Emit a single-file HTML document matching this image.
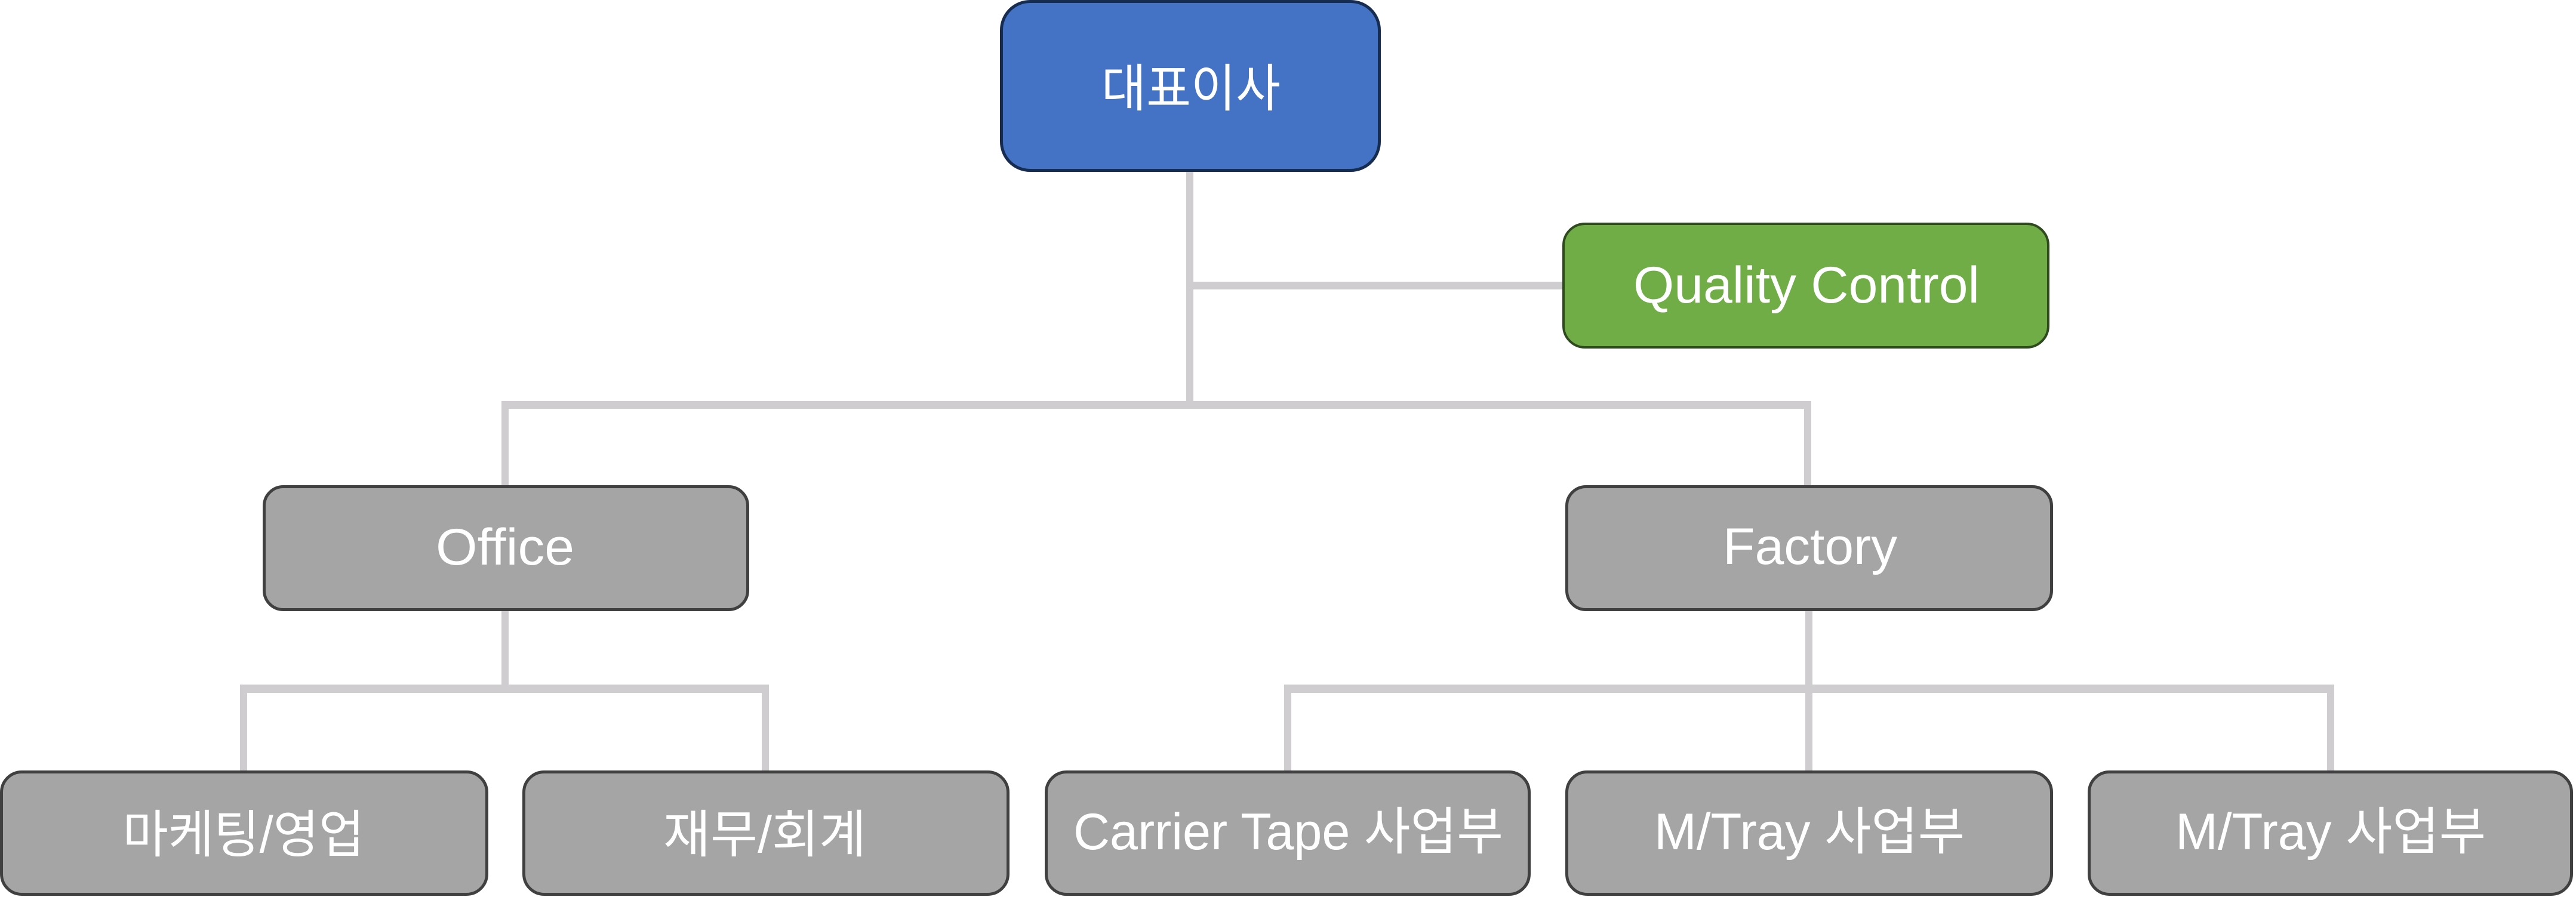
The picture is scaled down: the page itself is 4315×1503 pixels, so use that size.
<!DOCTYPE html>
<html>
<head>
<meta charset="utf-8">
<style>
  html, body { margin: 0; padding: 0; background: #ffffff; }
  svg { display: block; }
  text { font-family: "Liberation Sans", "Noto Sans CJK KR", sans-serif; font-size: 86px; fill: #ffffff; }
</style>
</head>
<body>
<svg width="4315" height="1503" viewBox="0 0 4315 1503" xmlns="http://www.w3.org/2000/svg">
  <!-- connectors -->
  <g fill="#CFCDCF">
    <!-- CEO vertical -->
    <rect x="1987" y="286" width="12" height="399"/>
    <!-- QC branch -->
    <rect x="1993" y="472" width="626" height="13"/>
    <!-- main horizontal -->
    <rect x="840" y="672" width="2194" height="13"/>
    <!-- to Office -->
    <rect x="840" y="672" width="12" height="143"/>
    <!-- to Factory -->
    <rect x="3022" y="672" width="12" height="143"/>
    <!-- Office down -->
    <rect x="840" y="1022" width="12" height="132"/>
    <!-- Office children horizontal -->
    <rect x="402" y="1147" width="886" height="14"/>
    <rect x="402" y="1147" width="12" height="146"/>
    <rect x="1276" y="1147" width="12" height="146"/>
    <!-- Factory down -->
    <rect x="3024" y="1022" width="12" height="271"/>
    <!-- Factory children horizontal -->
    <rect x="2151" y="1147" width="1759" height="14"/>
    <rect x="2151" y="1147" width="12" height="146"/>
    <rect x="3898" y="1147" width="12" height="146"/>
  </g>

  <!-- CEO box -->
  <rect x="1677.5" y="2.5" width="633" height="283" rx="48" ry="48" fill="#4472C4" stroke="#172C51" stroke-width="5"/>
  <text x="1995" y="178" text-anchor="middle" textLength="300" lengthAdjust="spacingAndGlyphs">대표이사</text>

  <!-- Quality Control -->
  <rect x="2619" y="375" width="812" height="207" rx="36" ry="36" fill="#70AD47" stroke="#2E4A1E" stroke-width="4"/>
  <text x="3026" y="507" text-anchor="middle" textLength="580" lengthAdjust="spacingAndGlyphs">Quality Control</text>

  <!-- Office -->
  <rect x="442.5" y="815.5" width="810" height="206" rx="32" ry="32" fill="#A5A5A5" stroke="#404040" stroke-width="5"/>
  <text x="846" y="946" text-anchor="middle" textLength="232" lengthAdjust="spacingAndGlyphs">Office</text>

  <!-- Factory -->
  <rect x="2624.5" y="815.5" width="812" height="206" rx="32" ry="32" fill="#A5A5A5" stroke="#404040" stroke-width="5"/>
  <text x="3032" y="945" text-anchor="middle" textLength="292" lengthAdjust="spacingAndGlyphs">Factory</text>

  <!-- bottom row -->
  <rect x="2.5" y="1293.5" width="813" height="205" rx="34" ry="34" fill="#A5A5A5" stroke="#404040" stroke-width="5"/>
  <text x="408" y="1428" text-anchor="middle" textLength="405" lengthAdjust="spacingAndGlyphs">마케팅/영업</text>

  <rect x="877.5" y="1293.5" width="811" height="205" rx="34" ry="34" fill="#A5A5A5" stroke="#404040" stroke-width="5"/>
  <text x="1281" y="1428" text-anchor="middle" textLength="340" lengthAdjust="spacingAndGlyphs">재무/회계</text>

  <rect x="1752.5" y="1293.5" width="809" height="205" rx="34" ry="34" fill="#A5A5A5" stroke="#404040" stroke-width="5"/>
  <text x="2158" y="1423" text-anchor="middle" textLength="720" lengthAdjust="spacingAndGlyphs">Carrier Tape 사업부</text>

  <rect x="2624.5" y="1293.5" width="812" height="205" rx="34" ry="34" fill="#A5A5A5" stroke="#404040" stroke-width="5"/>
  <text x="3031" y="1423" text-anchor="middle" textLength="520" lengthAdjust="spacingAndGlyphs">M/Tray 사업부</text>

  <rect x="3499.5" y="1293.5" width="808" height="205" rx="34" ry="34" fill="#A5A5A5" stroke="#404040" stroke-width="5"/>
  <text x="3904" y="1423" text-anchor="middle" textLength="520" lengthAdjust="spacingAndGlyphs">M/Tray 사업부</text>
</svg>
</body>
</html>
